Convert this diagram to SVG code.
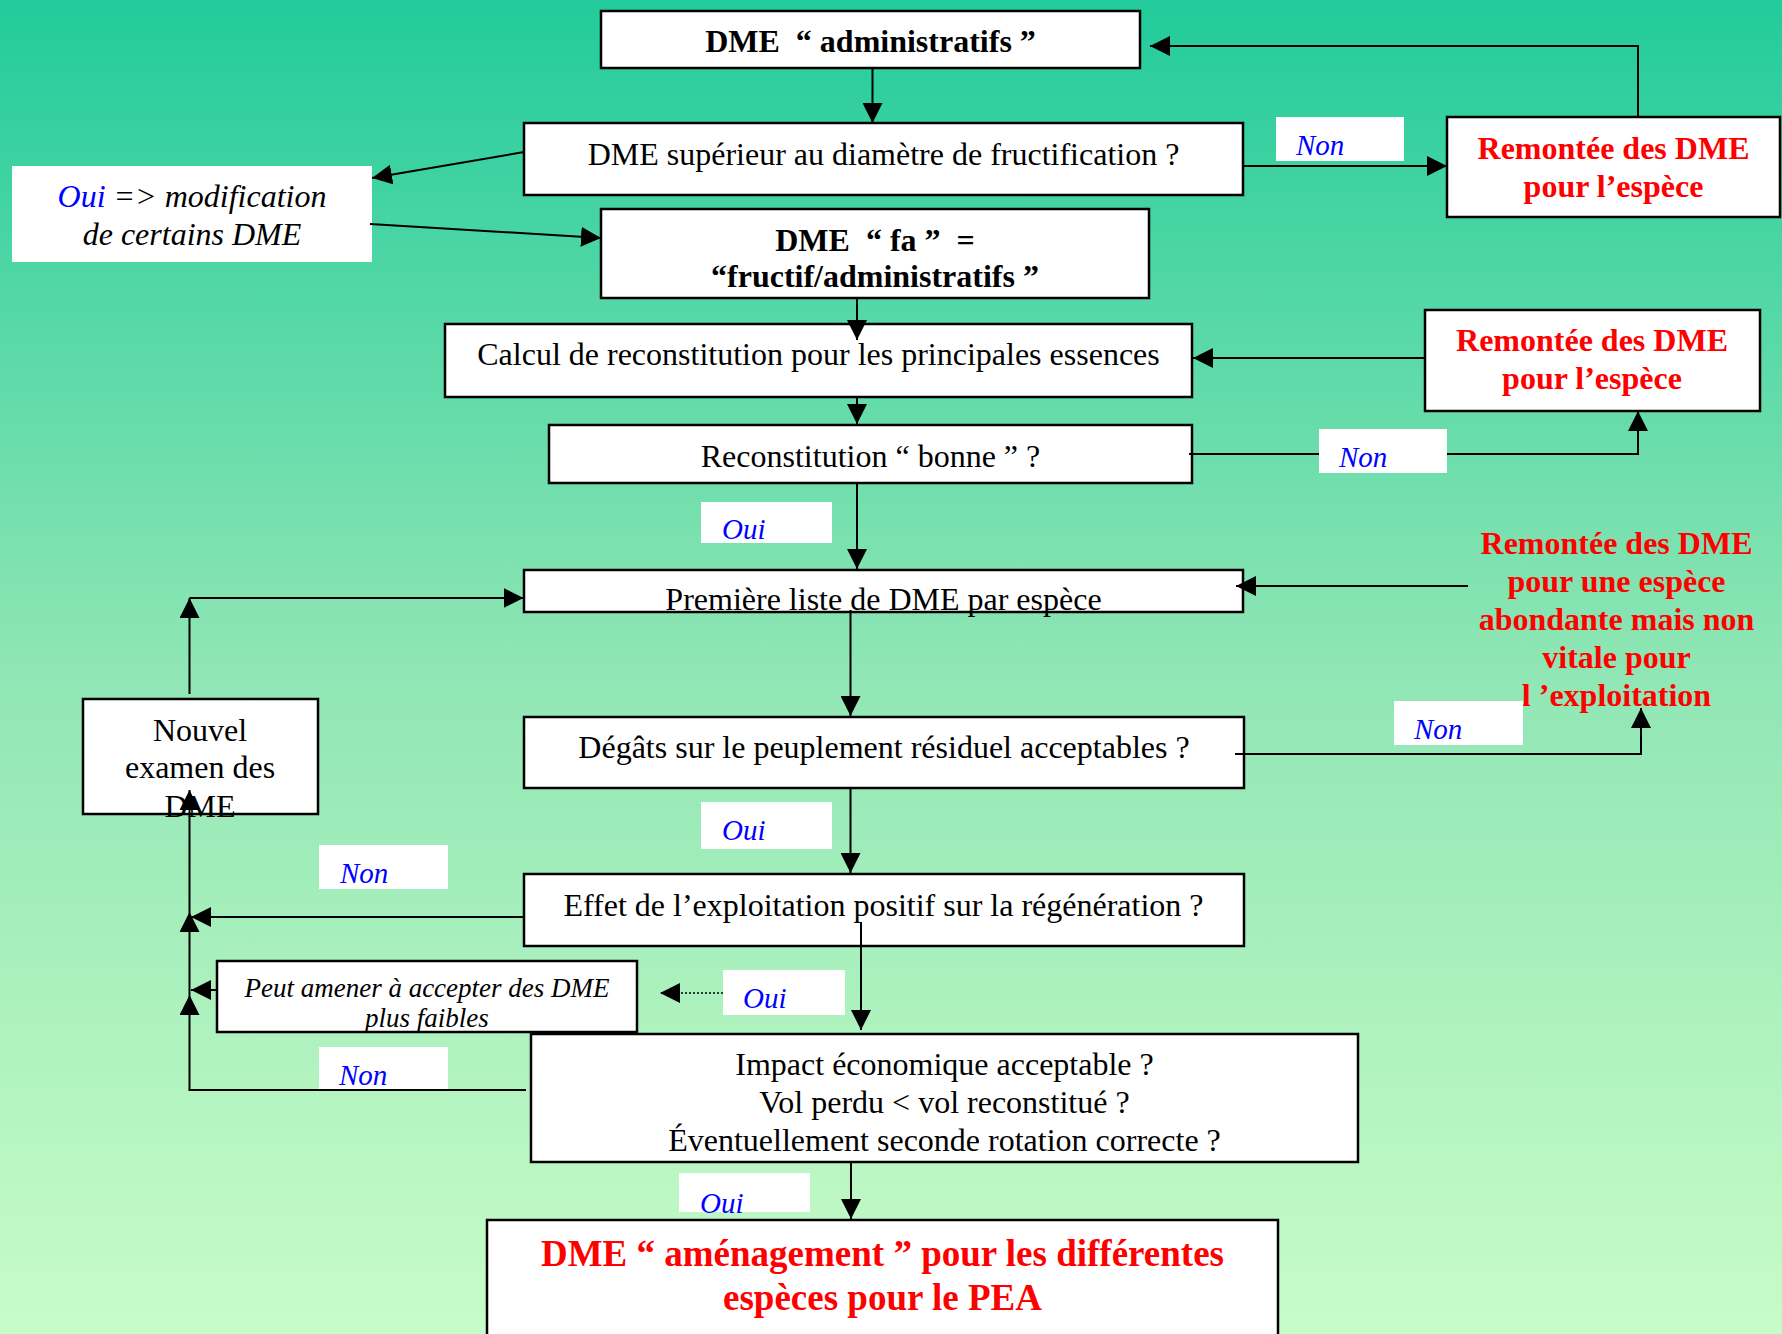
<svg xmlns="http://www.w3.org/2000/svg" width="1782" height="1334" viewBox="0 0 1782 1334">
<defs>
<linearGradient id="bg" x1="0" y1="0" x2="0" y2="1">
<stop offset="0" stop-color="#22CB9B"/>
<stop offset="0.5" stop-color="#8FE6B4"/>
<stop offset="1" stop-color="#C8FCC8"/>
</linearGradient>
<marker id="ah" markerUnits="userSpaceOnUse" markerWidth="20" markerHeight="20" refX="20" refY="10" orient="auto" viewBox="0 0 20 20">
<path d="M0,0 L20,10 L0,20 z" fill="#000"/>
</marker>
<style>
.box{fill:#fff;stroke:#000;stroke-width:2.5}
.lbl{fill:#fff;stroke:none}
.t{font-family:"Liberation Serif","Times New Roman",serif;font-size:32px;fill:#000;text-anchor:middle}
.b{font-weight:bold}
.red{fill:#ff0000}
.it{font-style:italic}
.lt{font-family:"Liberation Serif","Times New Roman",serif;font-size:29px;font-style:italic;fill:#0000ff}
.c{fill:none;stroke:#000;stroke-width:2}
.a{marker-end:url(#ah)}
</style>
</defs>
<rect x="0" y="0" width="1782" height="1334" fill="url(#bg)"/>

<g id="n-admin">
<rect class="box" x="601" y="11" width="539" height="57"/>
<text class="t b" x="870.5" y="52">DME&#160; “ administratifs ”</text>
</g>
<g id="n-q-diam">
<rect class="box" x="524" y="123" width="719" height="72"/>
<text class="t" x="883.5" y="165">DME supérieur au diamètre de fructification ?</text>
</g>
<g id="n-oui-modif">
<rect class="lbl" x="12" y="166" width="360" height="96"/>
<text class="t it" x="192" y="207"><tspan fill="#0000ff">Oui</tspan> =&gt; modification</text>
<text class="t it" x="192" y="245">de certains DME</text>
</g>
<g id="n-remontee1">
<rect class="box" x="1447" y="117" width="333" height="100"/>
<text class="t b red" x="1613.5" y="159">Remontée des DME</text>
<text class="t b red" x="1613.5" y="197">pour l’espèce</text>
</g>
<g id="n-fa">
<rect class="box" x="601" y="209" width="548" height="89"/>
<text class="t b" x="875" y="251">DME&#160; “ fa ”&#160; =</text>
<text class="t b" x="875" y="287">“fructif/administratifs ”</text>
</g>
<g id="n-calcul">
<rect class="box" x="445" y="324" width="747" height="73"/>
<text class="t" x="818.5" y="365">Calcul de reconstitution pour les principales essences</text>
</g>
<g id="n-remontee2">
<rect class="box" x="1425" y="310" width="335" height="101"/>
<text class="t b red" x="1592" y="351">Remontée des DME</text>
<text class="t b red" x="1592" y="389">pour l’espèce</text>
</g>
<g id="n-reconst">
<rect class="box" x="549" y="425" width="643" height="58"/>
<text class="t" x="870.5" y="467">Reconstitution “ bonne ” ?</text>
</g>
<g id="n-premiere">
<rect class="box" x="524" y="570" width="719" height="42"/>
<text class="t" x="883.5" y="610">Première liste de DME par espèce</text>
</g>
<g id="n-remontee3">
<text class="t b red" x="1616.5" y="554">Remontée des DME</text>
<text class="t b red" x="1616.5" y="592">pour une espèce</text>
<text class="t b red" x="1616.5" y="630">abondante mais non</text>
<text class="t b red" x="1616.5" y="668">vitale pour</text>
<text class="t b red" x="1616.5" y="706">l ’exploitation</text>
</g>
<g id="n-nouvel">
<rect class="box" x="83" y="699" width="235" height="115"/>
<text class="t" x="200" y="741">Nouvel</text>
<text class="t" x="200" y="778">examen des</text>
<text class="t" x="200" y="817">DME</text>
</g>
<g id="n-degats">
<rect class="box" x="524" y="717" width="720" height="71"/>
<text class="t" x="884" y="758">Dégâts sur le peuplement résiduel acceptables ?</text>
</g>
<g id="n-effet">
<rect class="box" x="524" y="874" width="720" height="72"/>
<text class="t" x="883.5" y="916">Effet de l’exploitation positif sur la régénération ?</text>
</g>
<g id="n-peut">
<rect class="box" x="217" y="961" width="420" height="71"/>
<text class="t it" style="font-size:27px" x="427" y="997">Peut amener à accepter des DME</text>
<text class="t it" style="font-size:27px" x="427" y="1027">plus faibles</text>
</g>
<g id="n-impact">
<rect class="box" x="531" y="1034" width="827" height="128"/>
<text class="t" x="944.5" y="1075">Impact économique acceptable ?</text>
<text class="t" x="944.5" y="1113">Vol perdu &lt; vol reconstitué ?</text>
<text class="t" x="944.5" y="1151">Éventuellement seconde rotation correcte ?</text>
</g>
<g id="n-final">
<rect class="box" x="487" y="1220" width="791" height="140"/>
<text class="t b red" style="font-size:37px" x="882.5" y="1266">DME “ aménagement ” pour les différentes</text>
<text class="t b red" style="font-size:37px" x="882.5" y="1310">espèces pour le PEA</text>
</g>

<g id="connectors">
<line class="c a" x1="872.5" y1="68" x2="872.5" y2="123"/>
<line class="c a" x1="524" y1="152" x2="372" y2="178"/>
<line class="c a" x1="370" y1="224" x2="601" y2="238"/>
<line class="c a" x1="1243" y1="166" x2="1447" y2="166"/>
<polyline class="c a" points="1638,117 1638,46 1150,46"/>
<line class="c a" x1="857" y1="298" x2="857" y2="340"/>
<line class="c a" x1="1425" y1="358" x2="1193" y2="358"/>
<line class="c a" x1="857" y1="397" x2="857" y2="424"/>
<polyline class="c a" points="1189,454 1638,454 1638,411"/>
<line class="c a" x1="857" y1="483" x2="857" y2="569"/>
<line class="c a" x1="1468" y1="586" x2="1236" y2="586"/>
<line class="c a" x1="189.5" y1="694" x2="189.5" y2="598"/>
<line class="c a" x1="189.5" y1="598" x2="523.5" y2="598"/>
<line class="c a" x1="850.5" y1="610" x2="850.5" y2="716"/>
<polyline class="c a" points="1235,754 1641,754 1641,708"/>
<line class="c a" x1="850.5" y1="788" x2="850.5" y2="873"/>
<line class="c a" x1="525" y1="917" x2="191" y2="917"/>
<line class="c a" x1="189.5" y1="1090" x2="189.5" y2="995"/>
<line class="c a" x1="189.5" y1="995" x2="189.5" y2="912"/>
<line class="c a" x1="189.5" y1="912" x2="189.5" y2="790"/>
<line class="c a" x1="217" y1="990" x2="191" y2="990"/>
<line class="c" x1="526" y1="1090" x2="188.5" y2="1090"/>
<line class="c a" x1="861" y1="922" x2="861" y2="1030"/>
<line class="c a" x1="723" y1="993" x2="660" y2="993" style="stroke-width:1.5;stroke-dasharray:2 2"/>
<line class="c a" x1="851" y1="1162" x2="851" y2="1219"/>
</g>

<g id="edge-labels">
<rect class="lbl" x="1276" y="117" width="128" height="44"/>
<text class="lt" x="1296" y="155">Non</text>
<rect class="lbl" x="1319" y="429" width="128" height="44"/>
<text class="lt" x="1339" y="467">Non</text>
<rect class="lbl" x="701" y="502" width="131" height="41"/>
<text class="lt" x="722" y="539">Oui</text>
<rect class="lbl" x="1394" y="701" width="129" height="44"/>
<text class="lt" x="1414" y="739">Non</text>
<rect class="lbl" x="701" y="802" width="131" height="47"/>
<text class="lt" x="722" y="840">Oui</text>
<rect class="lbl" x="319" y="845" width="129" height="44"/>
<text class="lt" x="340" y="883">Non</text>
<rect class="lbl" x="723" y="970" width="122" height="45"/>
<text class="lt" x="743" y="1008">Oui</text>
<rect class="lbl" x="319" y="1047" width="129" height="42"/>
<text class="lt" x="339" y="1085">Non</text>
<rect class="lbl" x="679" y="1173" width="131" height="39"/>
<text class="lt" x="700" y="1213">Oui</text>
</g>
</svg>
